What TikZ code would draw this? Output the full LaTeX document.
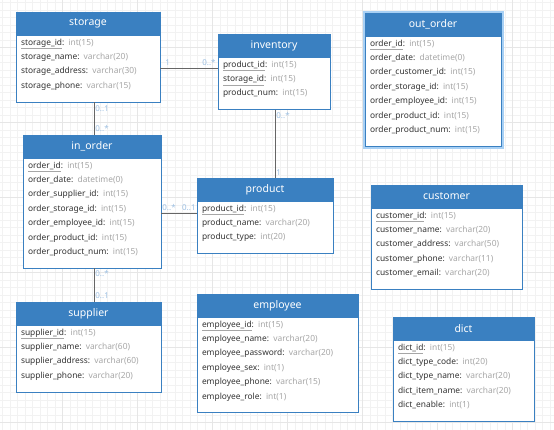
\documentclass[tikz,border=0pt]{standalone}
\usepackage{fontspec}
\setmainfont{Noto Sans}
\usetikzlibrary{positioning}
\definecolor{tablehead}{HTML}{3A80C1}
\definecolor{fieldtext}{HTML}{333333}
\definecolor{fieldtype}{HTML}{A6A6A6}
\definecolor{multip}{HTML}{9CBFE2}
\definecolor{linkgray}{HTML}{666666}
\definecolor{glowblue}{HTML}{A8D0F4}
\definecolor{minorgrid}{HTML}{F2F2F2}
\definecolor{majorgrid}{HTML}{E6E6E6}
\newcommand{\pk}[1]{{\color{fieldtype}\underline{\textcolor{fieldtext}{#1}}}}
\newcommand{\ty}[1]{\textcolor{fieldtype}{#1}}

\begin{document}
\begin{tikzpicture}[x=1pt,y=-1pt,
  head/.style={draw=tablehead,fill=tablehead,text=white,line width=1pt,minimum width=#1,minimum height=23pt,inner sep=0pt,outer sep=0pt,anchor=north west,font=\fontsize{10.5}{12}\selectfont},
  fields/.style={draw=tablehead,fill=white,line width=1pt,text width=#1,inner xsep=5pt,inner ysep=0pt,outer sep=0pt,align=left,text=fieldtext,font=\fontsize{8.4}{14.4}\selectfont,execute at begin node=\strut,execute at end node={\\[-5pt]\strut}},
  link/.style={draw=linkgray,line width=0.8pt},
  mult/.style={text=multip,font=\fontsize{8}{9}\selectfont,inner sep=1pt}]
\clip (0,0) rectangle (554,429);
\begin{scope}[xshift=2.5pt,yshift=-2.5pt]
\draw[minorgrid,line width=0.5pt,step=7.5pt] (-10pt,-440pt) grid (560pt,10pt);
\end{scope}
\begin{scope}[xshift=62.5pt,yshift=-47.5pt]
\draw[majorgrid,line width=0.6pt,step=75pt] (-80pt,-400pt) grid (500pt,50pt);
\end{scope}
% tables
\node[head=144pt] (storage) at (16,12) {storage};
\node[fields=134pt,below=0pt of storage] (storage_f) {\pk{storage\_id}: \ty{int(15)}\\ storage\_name: \ty{varchar(20)}\\ storage\_address: \ty{varchar(30)}\\ storage\_phone: \ty{varchar(15)}};
\node[head=112pt] (inventory) at (218,34) {inventory};
\node[fields=102pt,below=0pt of inventory] (inventory_f) {\pk{product\_id}: \ty{int(15)}\\ \pk{storage\_id}: \ty{int(15)}\\ product\_num: \ty{int(15)}};
\node[head=136pt] (out_order) at (365,13) {out\_order};
\node[fields=126pt,below=0pt of out_order] (out_order_f) {\pk{order\_id}: \ty{int(15)}\\ order\_date: \ty{datetime(0)}\\ order\_customer\_id: \ty{int(15)}\\ order\_storage\_id: \ty{int(15)}\\ order\_employee\_id: \ty{int(15)}\\ order\_product\_id: \ty{int(15)}\\ order\_product\_num: \ty{int(15)}};
\draw[glowblue,line width=2pt] ([shift={(-1.5pt,1.5pt)}]out_order.north west) rectangle ([shift={(1.5pt,-1.5pt)}]out_order_f.south east);
\node[head=138pt] (in_order) at (23,135) {in\_order};
\node[fields=128pt,below=0pt of in_order] (in_order_f) {\pk{order\_id}: \ty{int(15)}\\ order\_date: \ty{datetime(0)}\\ order\_supplier\_id: \ty{int(15)}\\ order\_storage\_id: \ty{int(15)}\\ order\_employee\_id: \ty{int(15)}\\ order\_product\_id: \ty{int(15)}\\ order\_product\_num: \ty{int(15)}};
\node[head=136pt] (product) at (197,178) {product};
\node[fields=126pt,below=0pt of product] (product_f) {\pk{product\_id}: \ty{int(15)}\\ product\_name: \ty{varchar(20)}\\ product\_type: \ty{int(20)}};
\node[head=151pt] (customer) at (371,185) {customer};
\node[fields=141pt,below=0pt of customer] (customer_f) {\pk{customer\_id}: \ty{int(15)}\\ customer\_name: \ty{varchar(20)}\\ customer\_address: \ty{varchar(50)}\\ customer\_phone: \ty{varchar(11)}\\ customer\_email: \ty{varchar(20)}};
\node[head=145pt] (supplier) at (16,302) {supplier};
\node[fields=135pt,below=0pt of supplier] (supplier_f) {\pk{supplier\_id}: \ty{int(15)}\\ supplier\_name: \ty{varchar(60)}\\ supplier\_address: \ty{varchar(60)}\\ supplier\_phone: \ty{varchar(20)}};
\node[head=161pt] (employee) at (197,294) {employee};
\node[fields=151pt,below=0pt of employee] (employee_f) {\pk{employee\_id}: \ty{int(15)}\\ employee\_name: \ty{varchar(20)}\\ employee\_password: \ty{varchar(20)}\\ employee\_sex: \ty{int(1)}\\ employee\_phone: \ty{varchar(15)}\\ employee\_role: \ty{int(1)}};
\node[head=141pt] (dict) at (393,317) {dict};
\node[fields=131pt,below=0pt of dict] (dict_f) {\pk{dict\_id}: \ty{int(15)}\\ dict\_type\_code: \ty{int(20)}\\ dict\_type\_name: \ty{varchar(20)}\\ dict\_item\_name: \ty{varchar(20)}\\ dict\_enable: \ty{int(1)}};
% relations
\draw[link] (storage_f.east) -- (storage_f.east -| inventory_f.west)
  node[mult,at start,anchor=south west,xshift=4pt,yshift=1.5pt] {1}
  node[mult,at end,anchor=south east,xshift=-1pt,yshift=1.5pt] {0..*};
\draw[link] ([xshift=2pt]in_order.north) -- ([xshift=2pt]in_order.north |- storage_f.south)
  node[mult,at end,anchor=north west,yshift=-2pt] {0..1}
  node[mult,at start,anchor=south west,yshift=2pt] {0..*};
\draw[link] ([xshift=1pt]inventory_f.south) -- ([xshift=1pt]inventory_f.south |- product.north)
  node[mult,at start,anchor=north west,yshift=-1pt] {0..*}
  node[mult,at end,anchor=south west,yshift=1pt] {1};
\draw[link] (in_order_f.east) -- (in_order_f.east -| product_f.west)
  node[mult,at start,anchor=south west,yshift=1.5pt] {0..*}
  node[mult,at end,anchor=south east,yshift=1.5pt] {0..1};
\draw[link] ([xshift=2pt]in_order_f.south) -- ([xshift=2pt]in_order_f.south |- supplier.north)
  node[mult,at start,anchor=north west,yshift=-1pt] {0..*}
  node[mult,at end,anchor=south west,yshift=2pt] {0..1};
\end{tikzpicture}
\end{document}
